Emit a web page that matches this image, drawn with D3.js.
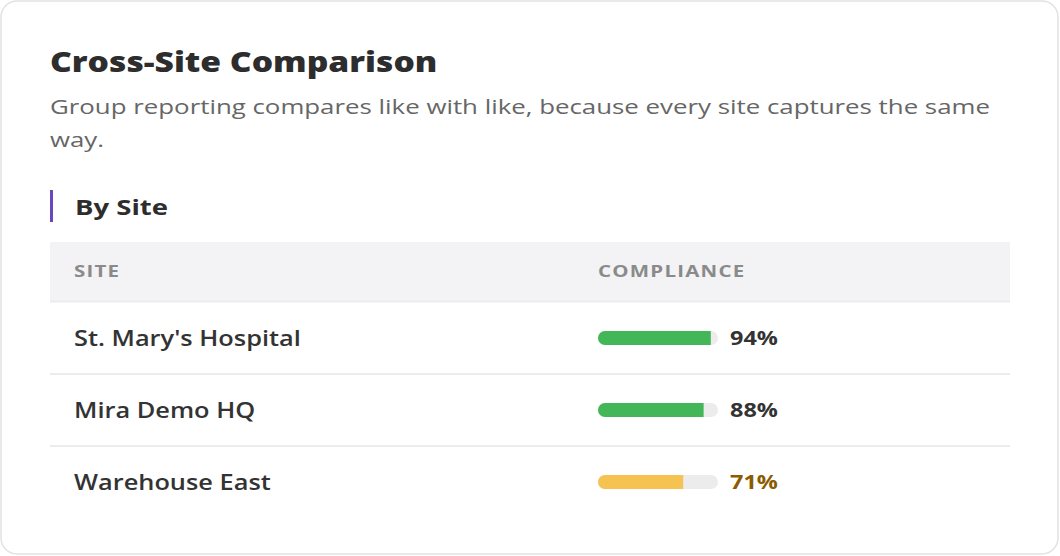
<!DOCTYPE html>
<html>
<head>
<meta charset="utf-8">
<script src="https://cdn.jsdelivr.net/npm/d3@7"></script>
<style>
  html, body { margin: 0; padding: 0; background: #ffffff; }
  svg { display: block; font-family: 'Open Sans', 'Noto Sans', sans-serif; }
</style>
</head>
<body>
<div id="chart"></div>
<script>
/** Chart data **/
const title = 'Cross-Site Comparison';
const subtitleLines = [
  'Group reporting compares like with like, because every site captures the same',
  'way.'
];
const sectionTitle = 'By Site';
const columns = ['SITE', 'COMPLIANCE'];
const sites = ["St. Mary's Hospital", 'Mira Demo HQ', 'Warehouse East'];
const compliance = [94, 88, 71];

/** Layout **/
const width = 1060;
const height = 556;
const table = { left: 50, right: 1010, top: 242, headH: 59, rowH: 72 };
const barX = 598;
const barW = 120;
const barH = 14;

// the original face is a wide geometric sans; widen Open Sans to match
function widen(sel, k) {
  sel.each(function () {
    const w = this.getComputedTextLength();
    d3.select(this)
      .attr('textLength', w * k)
      .attr('lengthAdjust', 'spacingAndGlyphs');
  });
}

const svg = d3
  .select('#chart')
  .append('svg')
  .attr('width', width)
  .attr('height', height);

// card
svg
  .append('rect')
  .attr('x', 1)
  .attr('y', 1)
  .attr('width', width - 3)
  .attr('height', height - 3)
  .attr('rx', 16)
  .attr('fill', '#fff')
  .attr('stroke', '#e2e2e2')
  .attr('stroke-width', 1.5);

/** Headings **/
svg
  .append('text')
  .attr('x', 50)
  .attr('y', 72)
  .attr('font-size', 28.5)
  .attr('font-weight', 800)
  .attr('fill', '#2d2d2d')
  .text(title)
  .call(widen, 1.18);

svg
  .append('g')
  .selectAll('text')
  .data(subtitleLines)
  .join('text')
  .attr('x', 50)
  .attr('y', (d, i) => 114 + i * 33)
  .attr('font-size', 20.5)
  .attr('fill', '#666')
  .text((d) => d)
  .call(widen, 1.26);

svg
  .append('rect')
  .attr('x', 50)
  .attr('y', 190)
  .attr('width', 3)
  .attr('height', 32)
  .attr('fill', '#6b46c1');

svg
  .append('text')
  .attr('x', 75)
  .attr('y', 215)
  .attr('font-size', 22)
  .attr('font-weight', 700)
  .attr('fill', '#2d2d2d')
  .text(sectionTitle)
  .call(widen, 1.25);

/** Table header **/
svg
  .append('rect')
  .attr('x', table.left)
  .attr('y', table.top)
  .attr('width', table.right - table.left)
  .attr('height', table.headH)
  .attr('fill', '#f3f3f5');

svg
  .append('line')
  .attr('x1', table.left)
  .attr('x2', table.right)
  .attr('y1', table.top + table.headH + 0.5)
  .attr('y2', table.top + table.headH + 0.5)
  .attr('stroke', '#ececec')
  .attr('stroke-width', 2);

svg
  .append('g')
  .selectAll('text')
  .data(columns)
  .join('text')
  .attr('x', (d, i) => (i === 0 ? 74 : barX))
  .attr('y', table.top + 35)
  .attr('font-size', 16.5)
  .attr('font-weight', 700)
  .attr('letter-spacing', 1)
  .attr('fill', '#8a8a8a')
  .text((d) => d)
  .call(widen, 1.24);

/** Rows **/
const rowsTop = table.top + table.headH + 1;
const y = d3
  .scaleBand()
  .domain(sites)
  .range([rowsTop, rowsTop + table.rowH * sites.length]);

const x = d3.scaleLinear().domain([0, 100]).range([0, barW]);

const rowData = sites.map((site, i) => ({ site, value: compliance[i] }));

const rows = svg
  .append('g')
  .selectAll('g')
  .data(rowData)
  .join('g')
  .attr('transform', (d) => `translate(0, ${y(d.site)})`);

// row separators
rows
  .filter((d, i) => i < sites.length - 1)
  .append('line')
  .attr('x1', table.left)
  .attr('x2', table.right)
  .attr('y1', y.bandwidth())
  .attr('y2', y.bandwidth())
  .attr('stroke', '#ececec')
  .attr('stroke-width', 2);

rows
  .append('text')
  .attr('x', 74)
  .attr('y', y.bandwidth() / 2 + 7.5)
  .attr('font-size', 21.5)
  .attr('font-weight', 600)
  .attr('fill', '#333')
  .text((d) => d.site)
  .call(widen, 1.18);

const mid = y.bandwidth() / 2;

// track
rows
  .append('rect')
  .attr('x', barX + x(0))
  .attr('y', mid - barH / 2)
  .attr('width', x(100))
  .attr('height', barH)
  .attr('rx', barH / 2)
  .attr('fill', '#ececec');

// fill (rounded left end, square right end)
rows
  .append('path')
  .attr('fill', (d) => (d.value >= 80 ? '#43b658' : '#f6c251'))
  .attr('d', (d) => {
    const r = barH / 2;
    const x0 = barX + x(0);
    const x1 = barX + x(d.value);
    const t = mid - r;
    const b = mid + r;
    return `M${x0 + r},${t}H${x1}V${b}H${x0 + r}A${r},${r} 0 0 1 ${x0 + r},${t}Z`;
  });

rows
  .append('text')
  .attr('x', barX + x(100) + 12)
  .attr('y', mid + 7)
  .attr('font-size', 19.5)
  .attr('font-weight', 700)
  .attr('fill', (d) => (d.value >= 80 ? '#333' : '#8c5a00'))
  .text((d) => `${d.value}%`)
  .call(widen, 1.2);
</script>
</body>
</html>
